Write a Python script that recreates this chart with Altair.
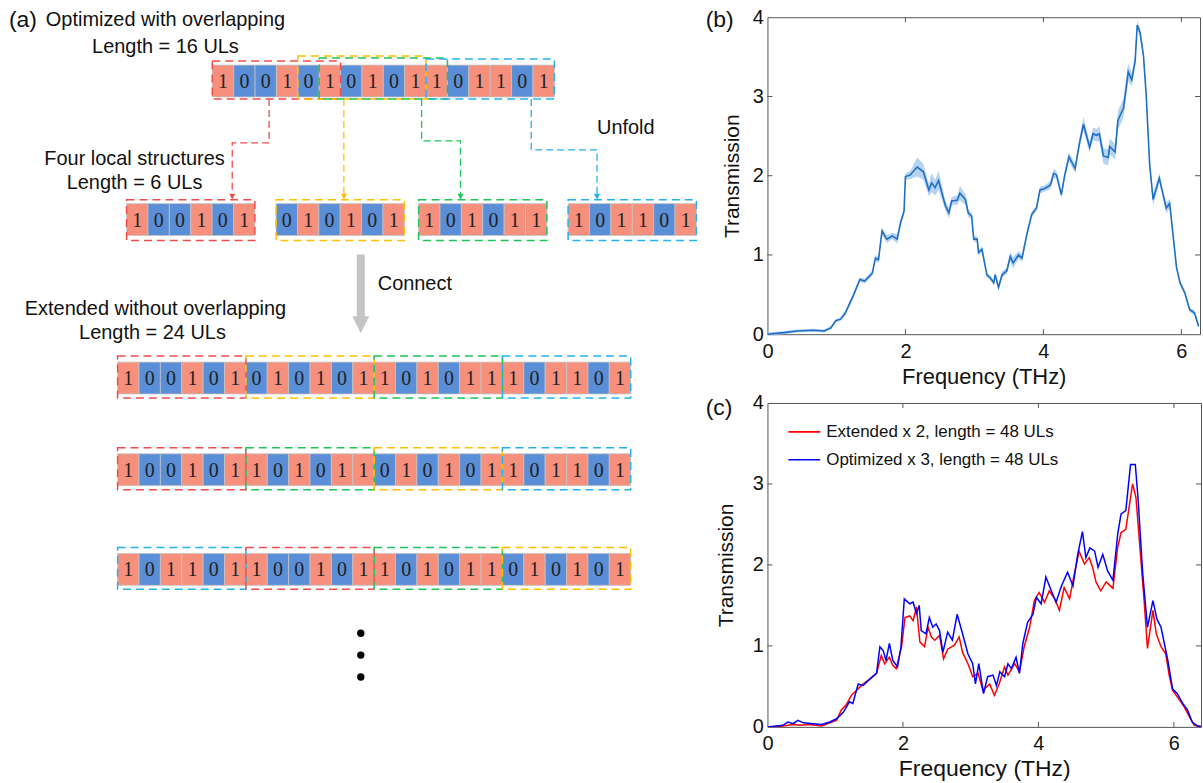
import altair as alt
import pandas as pd

# ---------------- data: panel (a) ----------------
top_sequence = list("1001010101101101")
block_digits = {"red": "100101", "yellow": "010101", "green": "101011", "blue": "101101"}
top_block_starts = {"red": 0, "yellow": 4, "green": 5, "blue": 10}
local_order = ["red", "yellow", "green", "blue"]
extended_rows = [
    ["red", "yellow", "green", "blue"],
    ["red", "green", "yellow", "blue"],
    ["blue", "red", "green", "yellow"],
]
label_left = ["(a)", "Unfold", "Connect"]
label_center = ["Optimized with overlapping", "Length = 16 ULs", "Four local structures",
                "Length = 6 ULs", "Extended without overlapping", "Length = 24 ULs"]

# ---------------- data: panel (b) ----------------
freq_b = [0, 0.24, 0.43, 0.67, 0.82, 0.92, 0.99, 1.06, 1.13, 1.25, 1.34, 1.41, 1.52, 1.565, 1.61,
          1.66, 1.73, 1.81, 1.88, 1.93, 1.98, 2.0, 2.07, 2.17, 2.26, 2.34, 2.38, 2.43, 2.48, 2.58,
          2.63, 2.67, 2.75, 2.79, 2.87, 2.91, 2.96, 2.99, 3.04, 3.06, 3.11, 3.18, 3.23, 3.28, 3.30,
          3.35, 3.40, 3.47, 3.52, 3.56, 3.64, 3.69, 3.76, 3.83, 3.90, 3.95, 4.02, 4.10, 4.15, 4.19,
          4.26, 4.31, 4.37, 4.46, 4.52, 4.58, 4.67, 4.72, 4.77, 4.81, 4.87, 4.94, 4.96, 5.04, 5.08,
          5.16, 5.23, 5.28, 5.33, 5.36, 5.40, 5.45, 5.49, 5.54, 5.59, 5.68, 5.73, 5.78, 5.83, 5.93,
          5.98, 6.05, 6.12, 6.19, 6.25]
trans_b = [0.0, 0.02, 0.04, 0.05, 0.04, 0.08, 0.17, 0.19, 0.27, 0.50, 0.69, 0.67, 0.77, 0.96, 0.94,
           1.30, 1.20, 1.24, 1.20, 1.41, 1.55, 1.99, 2.01, 2.11, 2.05, 1.82, 1.91, 1.85, 1.94, 1.62,
           1.53, 1.68, 1.69, 1.78, 1.70, 1.53, 1.49, 1.20, 1.20, 1.03, 1.07, 0.75, 0.71, 0.65, 0.75,
           0.59, 0.75, 0.80, 0.98, 0.90, 1.00, 0.96, 1.26, 1.51, 1.59, 1.82, 1.84, 1.88, 2.03, 2.01,
           1.76, 2.01, 2.24, 2.09, 2.40, 2.65, 2.36, 2.53, 2.51, 2.53, 2.25, 2.23, 2.37, 2.30, 2.70,
           2.85, 3.31, 3.21, 3.45, 3.90, 3.81, 3.52, 3.02, 2.14, 1.70, 1.97, 1.78, 1.59, 1.65, 0.84,
           0.65, 0.52, 0.31, 0.27, 0.10]
spread_b = [0.02, 0.02, 0.02, 0.02, 0.02, 0.02, 0.02, 0.02, 0.03, 0.03, 0.03, 0.03, 0.03, 0.04, 0.04,
            0.05, 0.05, 0.04, 0.06, 0.04, 0.04, 0.04, 0.05, 0.12, 0.10, 0.08, 0.12, 0.10, 0.12, 0.06,
            0.07, 0.05, 0.06, 0.09, 0.07, 0.05, 0.04, 0.04, 0.04, 0.04, 0.04, 0.03, 0.03, 0.03, 0.04,
            0.03, 0.04, 0.04, 0.06, 0.07, 0.05, 0.05, 0.04, 0.04, 0.03, 0.04, 0.04, 0.05, 0.06, 0.05,
            0.04, 0.05, 0.06, 0.06, 0.06, 0.09, 0.07, 0.08, 0.08, 0.09, 0.10, 0.10, 0.10, 0.10, 0.12,
            0.12, 0.12, 0.08, 0.08, 0.06, 0.05, 0.05, 0.05, 0.05, 0.08, 0.06, 0.05, 0.07, 0.06, 0.04,
            0.03, 0.03, 0.03, 0.03, 0.03]

# ---------------- data: panel (c) ----------------
freq_red = [0, 0.23, 0.38, 0.48, 0.62, 0.80, 0.92, 1.02, 1.09, 1.16, 1.24, 1.34, 1.41, 1.51, 1.61,
            1.68, 1.73, 1.80, 1.85, 1.90, 1.98, 2.03, 2.10, 2.15, 2.20, 2.25, 2.32, 2.37, 2.42, 2.47,
            2.54, 2.60, 2.66, 2.76, 2.83, 2.88, 2.96, 3.03, 3.11, 3.18, 3.28, 3.35, 3.42, 3.50, 3.55,
            3.65, 3.72, 3.79, 3.87, 3.94, 4.01, 4.09, 4.16, 4.24, 4.31, 4.38, 4.46, 4.53, 4.60, 4.68,
            4.75, 4.80, 4.85, 4.92, 5.00, 5.10, 5.17, 5.22, 5.29, 5.39, 5.44, 5.51, 5.56, 5.61, 5.69,
            5.74, 5.81, 5.88, 5.93, 5.98, 6.05, 6.15, 6.22, 6.30, 6.42]
trans_red = [0.0, 0.01, 0.03, 0.02, 0.03, 0.01, 0.05, 0.08, 0.21, 0.27, 0.39, 0.47, 0.53, 0.59, 0.66,
             0.88, 0.78, 0.86, 0.76, 0.72, 0.99, 1.35, 1.37, 1.31, 1.48, 1.05, 0.99, 1.23, 1.11, 1.07,
             1.13, 0.84, 0.96, 1.01, 1.11, 0.92, 0.78, 0.62, 0.66, 0.45, 0.53, 0.39, 0.53, 0.74, 0.64,
             0.78, 0.68, 0.99, 1.23, 1.56, 1.66, 1.54, 1.68, 1.58, 1.44, 1.72, 1.58, 1.89, 2.17, 2.01,
             2.09, 1.97, 1.79, 1.68, 1.79, 1.71, 2.22, 2.40, 2.44, 3.00, 2.83, 2.09, 1.56, 0.97, 1.44,
             1.15, 0.99, 0.90, 0.64, 0.45, 0.37, 0.25, 0.14, 0.02, 0.0]
freq_blue = [0, 0.23, 0.30, 0.38, 0.45, 0.53, 0.67, 0.80, 0.92, 1.02, 1.12, 1.21, 1.26, 1.34, 1.41,
             1.51, 1.61, 1.66, 1.71, 1.75, 1.80, 1.85, 1.92, 1.97, 2.02, 2.10, 2.15, 2.20, 2.24, 2.27,
             2.34, 2.39, 2.44, 2.49, 2.54, 2.59, 2.66, 2.73, 2.80, 2.88, 2.96, 3.03, 3.07, 3.12, 3.19,
             3.25, 3.33, 3.38, 3.43, 3.50, 3.55, 3.60, 3.67, 3.72, 3.77, 3.84, 3.92, 3.97, 4.04, 4.11,
             4.19, 4.26, 4.34, 4.43, 4.51, 4.58, 4.65, 4.70, 4.76, 4.83, 4.88, 4.95, 5.02, 5.10, 5.17,
             5.22, 5.29, 5.36, 5.43, 5.47, 5.54, 5.61, 5.69, 5.75, 5.81, 5.91, 5.98, 6.05, 6.13, 6.20,
             6.27, 6.35, 6.42]
trans_blue = [0.0, 0.02, 0.06, 0.04, 0.08, 0.05, 0.04, 0.03, 0.06, 0.10, 0.18, 0.31, 0.29, 0.53, 0.51,
              0.59, 0.66, 0.99, 0.94, 0.82, 1.03, 0.82, 0.74, 0.98, 1.58, 1.52, 1.54, 1.40, 1.50, 1.19,
              1.15, 1.35, 1.23, 1.27, 1.19, 0.92, 1.17, 1.07, 1.39, 1.15, 0.90, 0.78, 0.53, 0.78, 0.41,
              0.62, 0.64, 0.51, 0.68, 0.62, 0.78, 0.72, 0.86, 0.66, 1.03, 1.29, 1.39, 1.60, 1.52, 1.85,
              1.68, 1.54, 1.74, 1.91, 1.74, 2.13, 2.41, 2.09, 2.21, 2.17, 1.97, 2.13, 1.93, 1.81, 2.38,
              2.63, 2.67, 3.24, 3.24, 2.83, 1.89, 1.23, 1.56, 1.33, 1.23, 0.82, 0.47, 0.41, 0.29, 0.21,
              0.06, 0.01, 0.0]
legend_labels = ["Extended x 2, length = 48 ULs", "Optimized x 3, length = 48 ULs"]
panel_labels = ["(b)", "(c)"]
x_ticks = [0, 2, 4, 6]
y_ticks = [0, 1, 2, 3, 4]
inner_x_ticks = [2, 4, 6]
inner_y_ticks = [1, 2, 3]

# ---------------- styles & layout ----------------
FONT = "Liberation Sans"
ONE_FILL, ZERO_FILL, CELL_EDGE = "#F6907D", "#5A8ED6", "#C4C4C4"
BOX_COLORS = {"red": "#F24B4B", "yellow": "#FFC000", "green": "#1DC457", "blue": "#22B2EE"}
GRAY_ARROW = "#C4C4C4"
FRAME = "#555555"
LINE_B, BAND_B = "#1F6FC4", "#A9CBEE"
RED, BLUE = "#FF0000", "#0000FF"

T_OFF = 15          # page y of the top of panel (a)'s scale
WA, HA = 700, 766
CELL_W, CELL_H = 21.45, 32
TOP_X, TOP_Y = 212, 63
TOP_RAISE = {"red": 4, "yellow": 9, "green": 7, "blue": 6}
LOCAL_X, LOCAL_Y = [126, 276, 419, 569], 202
EXT_X, EXT_Y = 117, [361, 453, 553]
CONNECT = {"red": (269, 141, 232), "yellow": (344, None, 344),
           "green": (422, 139, 461), "blue": (532, 148, 598)}
LEFT_POS = [(8, 18, 23), (598, 126, 20), (378, 283, 20)]
CENTER_POS = [(165, 18, 20), (165, 45, 20), (134, 157, 20), (134, 181, 20), (155, 308, 20), (152, 332, 20)]

cells, boxes = [], []


def add_cells(digits, x0, y0):
    for i, d in enumerate(digits):
        cells.append(dict(x0=x0 + i * CELL_W, x1=x0 + (i + 1) * CELL_W, y0=y0, y1=y0 + CELL_H,
                          xc=x0 + (i + 0.5) * CELL_W, yc=y0 + CELL_H / 2 + 1, digit=d,
                          fill=ONE_FILL if d == "1" else ZERO_FILL))


def add_box(name, x0, y0, y1):
    boxes.append(dict(x0=x0, x1=x0 + 6 * CELL_W, y0=y0, y1=y1, color=BOX_COLORS[name]))


add_cells(top_sequence, TOP_X, TOP_Y)
for name, s in top_block_starts.items():
    add_box(name, TOP_X + s * CELL_W, TOP_Y - TOP_RAISE[name], TOP_Y + CELL_H + 2)
for k, name in enumerate(local_order):
    add_cells(block_digits[name], LOCAL_X[k], LOCAL_Y)
    add_box(name, LOCAL_X[k], LOCAL_Y - 4, LOCAL_Y + CELL_H + 5)
for r, order in enumerate(extended_rows):
    for j, name in enumerate(order):
        x0 = EXT_X + j * 6 * CELL_W
        add_cells(block_digits[name], x0, EXT_Y[r])
        add_box(name, x0, EXT_Y[r] - 6, EXT_Y[r] + CELL_H + 4)

cells_df = pd.DataFrame(cells)
boxes_df = pd.DataFrame(boxes)

conn_rows, heads = [], []
y_start, y_end = TOP_Y + CELL_H + 2, LOCAL_Y - 10
for name, (sx, ey, tx) in CONNECT.items():
    pts = [(sx, y_start)] + ([(sx, ey), (tx, ey)] if ey is not None else []) + [(tx, y_end)]
    for k, (px, py) in enumerate(pts):
        conn_rows.append(dict(id=name, k=k, x=px, y=py, color=BOX_COLORS[name]))
    heads.append(dict(x=tx, y=y_end + 3, color=BOX_COLORS[name]))
conn_df = pd.DataFrame(conn_rows)
heads_df = pd.DataFrame(heads)

shaft_df = pd.DataFrame([dict(x0=357, x1=365, y0=253, y1=316)])
gray_head_df = pd.DataFrame([dict(x=361, y=323.5)])
dots_df = pd.DataFrame(dict(x=[361, 361, 361], y=[633, 655, 677]))
left_df = pd.DataFrame([dict(t=t, x=p[0], y=p[1], fs=p[2]) for t, p in zip(label_left, LEFT_POS)])
center_df = pd.DataFrame([dict(t=t, x=p[0], y=p[1], fs=p[2]) for t, p in zip(label_center, CENTER_POS)])

xs = alt.Scale(domain=[0, WA], nice=False, zero=False)
ys = alt.Scale(domain=[T_OFF, T_OFF + HA], nice=False, zero=False, reverse=True)
AX = lambda f: alt.X(f, scale=xs, axis=None)
AY = lambda f: alt.Y(f, scale=ys, axis=None)
TRI = "M-1,-1L1,-1L0,1Z"

cells_layer = alt.Chart(cells_df).mark_rect(stroke=CELL_EDGE, strokeWidth=0.8).encode(
    x=AX("x0:Q"), x2="x1:Q", y=AY("y0:Q"), y2="y1:Q", fill=alt.Fill("fill:N", scale=None))
digits_layer = alt.Chart(cells_df).mark_text(font="Liberation Serif", fontSize=20, color="#222222",
                                             baseline="middle", align="center").encode(
    x=AX("xc:Q"), y=AY("yc:Q"), text="digit:N")
boxes_layer = alt.Chart(boxes_df).mark_rect(fillOpacity=0, strokeDash=[8, 5], strokeWidth=1.5).encode(
    x=AX("x0:Q"), x2="x1:Q", y=AY("y0:Q"), y2="y1:Q", stroke=alt.Stroke("color:N", scale=None))
conn_layer = alt.Chart(conn_df).mark_line(strokeDash=[7, 4], strokeWidth=1.3).encode(
    x=AX("x:Q"), y=AY("y:Q"), detail="id:N", order="k:Q", color=alt.Color("color:N", scale=None))
heads_layer = alt.Chart(heads_df).mark_point(shape=TRI, filled=True, size=36, opacity=1).encode(
    x=AX("x:Q"), y=AY("y:Q"), color=alt.Color("color:N", scale=None))
shaft_layer = alt.Chart(shaft_df).mark_rect(color=GRAY_ARROW).encode(
    x=AX("x0:Q"), x2="x1:Q", y=AY("y0:Q"), y2="y1:Q")
gray_head_layer = alt.Chart(gray_head_df).mark_point(shape=TRI, filled=True, size=289, opacity=1,
                                                     color=GRAY_ARROW).encode(x=AX("x:Q"), y=AY("y:Q"))
dots_layer = alt.Chart(dots_df).mark_circle(size=55, color="black", opacity=1).encode(
    x=AX("x:Q"), y=AY("y:Q"))
left_layer = alt.Chart(left_df).mark_text(align="left", baseline="middle", color="#111111").encode(
    x=AX("x:Q"), y=AY("y:Q"), text="t:N", size=alt.Size("fs:Q", scale=None))
center_layer = alt.Chart(center_df).mark_text(align="center", baseline="middle", color="#111111").encode(
    x=AX("x:Q"), y=AY("y:Q"), text="t:N", size=alt.Size("fs:Q", scale=None))

panel_a = alt.layer(cells_layer, digits_layer, boxes_layer, conn_layer, heads_layer, shaft_layer,
                    gray_head_layer, dots_layer, left_layer, center_layer).properties(
    width=WA, height=HA, view=alt.ViewBackground(stroke="transparent"))

# ---------------- panels (b) and (c) ----------------
WB, HB, XB_MAX = 434, 318, 6.27
WC, HC, XC_MAX = 435, 325, 6.40


def make_axes(label_pad, title_y, title_fs, ytitle_x):
    xa = alt.Axis(values=x_ticks, title="Frequency (THz)", labelFontSize=20, titleFontSize=title_fs,
                  titleFontWeight="normal", ticks=False, tickSize=0, domain=False, grid=False,
                  labelPadding=label_pad, labelBaseline="alphabetic", labelFlush=False,
                  titleY=title_y, titleBaseline="alphabetic", labelColor="#111111", titleColor="#111111")
    ya = alt.Axis(values=y_ticks, title="Transmission", labelFontSize=20, titleFontSize=21,
                  titleFontWeight="normal", ticks=False, tickSize=0, domain=False, grid=False,
                  labelPadding=4, titleX=ytitle_x, titleBaseline="alphabetic",
                  labelColor="#111111", titleColor="#111111")
    return xa, ya


def tick_layers(X, Y, W, H):
    xt = pd.DataFrame({"f": inner_x_ticks})
    yt = pd.DataFrame({"t": inner_y_ticks})
    return [
        alt.Chart(xt).mark_rule(color=FRAME).encode(x=X, y=alt.value(H), y2=alt.value(H - 5)),
        alt.Chart(xt).mark_rule(color=FRAME).encode(x=X, y=alt.value(0), y2=alt.value(5)),
        alt.Chart(yt).mark_rule(color=FRAME).encode(y=Y, x=alt.value(0), x2=alt.value(5)),
        alt.Chart(yt).mark_rule(color=FRAME).encode(y=Y, x=alt.value(W - 5), x2=alt.value(W)),
    ]


# (b)
xa_b, ya_b = make_axes(23, 49, 22, -29)
sx_b = alt.Scale(domain=[0, XB_MAX], nice=False, zero=False)
sy_b = alt.Scale(domain=[0, 4], nice=False)
XB = alt.X("f:Q", scale=sx_b, axis=xa_b)
YB = alt.Y("t:Q", scale=sy_b, axis=ya_b)
b_df = pd.DataFrame({"f": freq_b, "t": trans_b, "s": spread_b})
b_df["lo"] = b_df["t"] - b_df["s"]
b_df["hi"] = b_df["t"] + b_df["s"]
band_b = alt.Chart(b_df).mark_area(color=BAND_B, opacity=0.85).encode(
    x=XB, y=alt.Y("lo:Q", scale=sy_b, axis=ya_b), y2="hi:Q")
line_b = alt.Chart(b_df).mark_line(color=LINE_B, strokeWidth=1.6).encode(x=XB, y=YB)
lab_b = alt.Chart(pd.DataFrame({"lab": [panel_labels[0]]})).mark_text(
    align="left", baseline="middle", fontSize=23, color="#111111").encode(
    text="lab:N", x=alt.value(-62), y=alt.value(3))
panel_b = alt.layer(band_b, line_b, *tick_layers(XB, YB, WB, HB), lab_b).properties(
    width=WB, height=HB, view=alt.ViewBackground(stroke=FRAME))

# (c)
xa_c, ya_c = make_axes(23, 49, 23, -35)
sx_c = alt.Scale(domain=[0, XC_MAX], nice=False, zero=False)
sy_c = alt.Scale(domain=[0, 4], nice=False)
XC = alt.X("f:Q", scale=sx_c, axis=xa_c)
YC = alt.Y("t:Q", scale=sy_c, axis=ya_c)
red_df = pd.DataFrame({"f": freq_red, "t": trans_red})
blue_df = pd.DataFrame({"f": freq_blue, "t": trans_blue})
line_red = alt.Chart(red_df).mark_line(color=RED, strokeWidth=1.5, clip=True).encode(x=XC, y=YC)
line_blue = alt.Chart(blue_df).mark_line(color=BLUE, strokeWidth=1.5, clip=True).encode(x=XC, y=YC)
LEG_PX = [29, 57]
leg_df = pd.DataFrame({"lab": legend_labels, "color": [RED, BLUE],
                       "t": [4 - p / HC * 4 for p in LEG_PX]})
leg_rule = alt.Chart(leg_df).mark_rule(strokeWidth=1.6).encode(
    x=alt.value(21), x2=alt.value(53), y=YC, color=alt.Color("color:N", scale=None))
leg_text = alt.Chart(leg_df).mark_text(align="left", baseline="middle", fontSize=17,
                                       color="#111111").encode(x=alt.value(59), y=YC, text="lab:N")
lab_c = alt.Chart(pd.DataFrame({"lab": [panel_labels[1]]})).mark_text(
    align="left", baseline="middle", fontSize=23, color="#111111").encode(
    text="lab:N", x=alt.value(-62), y=alt.value(5))
panel_c = alt.layer(line_red, line_blue, *tick_layers(XC, YC, WC, HC), leg_rule, leg_text, lab_c).properties(
    width=WC, height=HC, view=alt.ViewBackground(stroke=FRAME))

right = alt.vconcat(panel_b, panel_c, spacing=4)
chart = alt.hconcat(panel_a, right, spacing=5).properties(
    padding={"top": 5, "left": 0, "right": 0, "bottom": 0}, background="white"
).configure(font=FONT)

chart.save("out.html", embed_options={"renderer": "svg", "actions": False})
